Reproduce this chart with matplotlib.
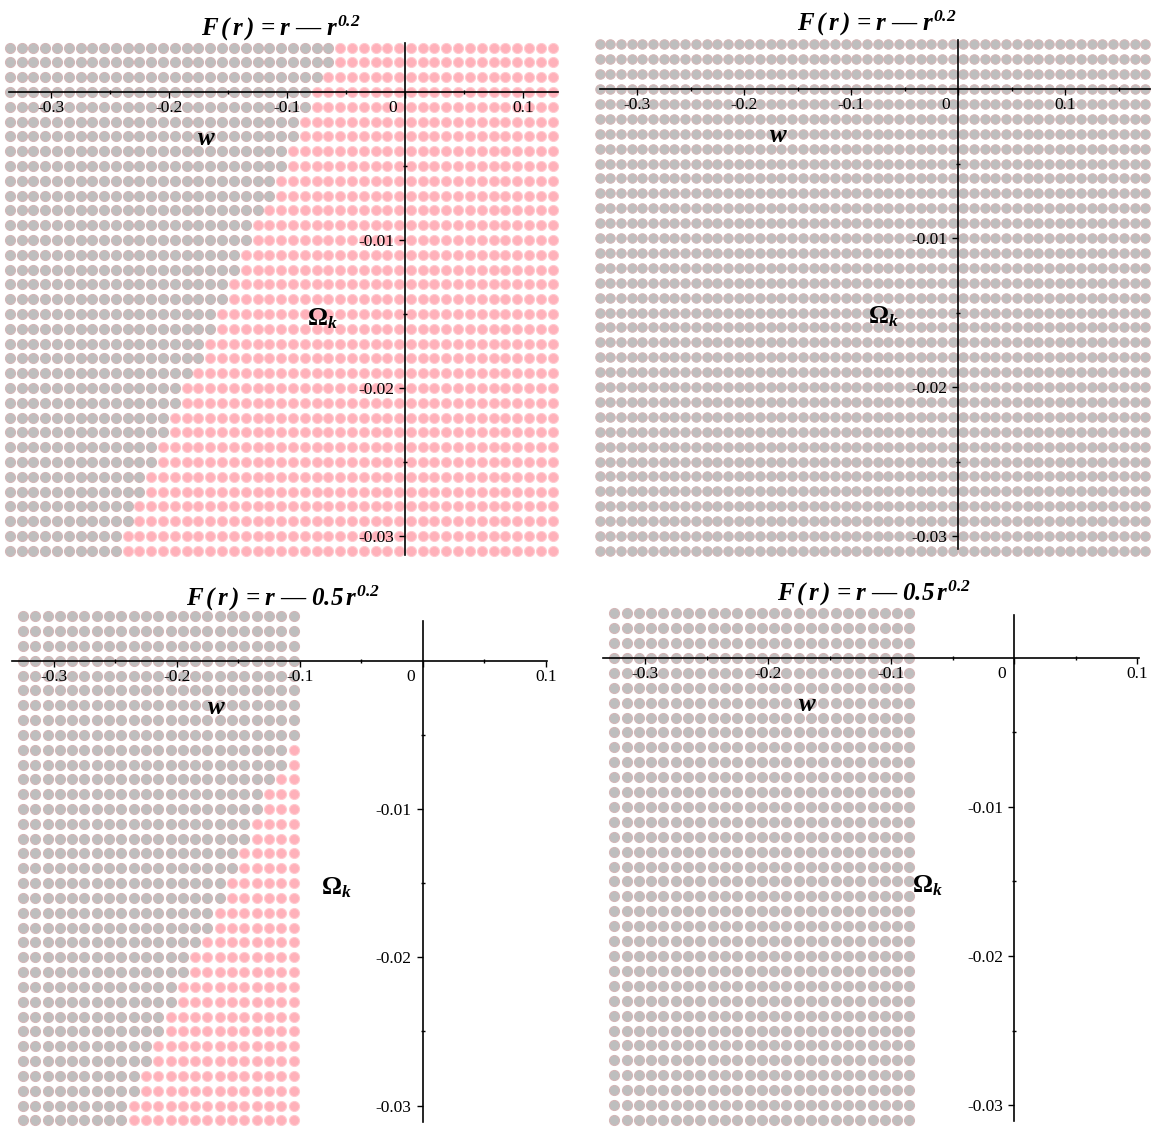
import numpy as np
import matplotlib
matplotlib.use('Agg')
from matplotlib import pyplot as plt
import matplotlib.transforms as mtransforms

plt.rcParams['mathtext.fontset'] = 'custom'
plt.rcParams['mathtext.rm'] = 'Liberation Serif:bold:italic'
plt.rcParams['mathtext.it'] = 'Liberation Serif:bold:italic'
plt.rcParams['mathtext.bf'] = 'Liberation Serif:bold'

W, H = 1163, 1129

titles = [r'$F\,(\,r\,)\,=r$' + ' \u2014 ' + r'$r^{0.2}$',
          r'$F\,(\,r\,)\,=r$' + ' \u2014 ' + r'$r^{0.2}$',
          r'$F\,(\,r\,)\,=r$' + ' \u2014 ' + r'$0.5\,r^{0.2}$',
          r'$F\,(\,r\,)\,=r$' + ' \u2014 ' + r'$0.5\,r^{0.2}$']

# Omega_k rows of the sample grid (top to bottom)
omega_rows = np.round(np.linspace(0.003, -0.031, 35), 3)

# first w (per row) where the condition holds -> pink dots
w_edge = [-0.055, -0.055, -0.065, -0.075, -0.075, -0.085, -0.085, -0.095, -0.095,
          -0.105, -0.105, -0.115, -0.125, -0.125, -0.135, -0.135, -0.145, -0.145,
          -0.155, -0.155, -0.165, -0.165, -0.175, -0.185, -0.185, -0.195, -0.195,
          -0.205, -0.205, -0.215, -0.215, -0.225, -0.225, -0.235, -0.235]

# w sample range of each panel (first, last), step 0.01
w_first = [-0.335, -0.335, -0.325, -0.325]
w_last = [0.125, 0.175, -0.105, -0.085]
has_region = [True, False, True, False]

xticks = [-0.3, -0.2, -0.1, 0, 0.1]
xticklabels = ['-0.3', '-0.2', '-0.1', '0', '0.1']
yticks = [-0.01, -0.02, -0.03]
yticklabels = ['-0.01', '-0.02', '-0.03']

# layout in pixels: origin, px per unit, visible ranges
origin = [(405, 92), (958, 89), (422.7, 660.7), (1014, 658)]
scale = [(1180, 14800), (1070, 14900), (1230, 14830), (1230, 14900)]
xview = [(-0.336, 0.13), (-0.3346, 0.179), (-0.334, 0.101), (-0.334, 0.102)]
yview = [(-0.0313, 0.0033), (-0.0309, 0.0033), (-0.0311, 0.0027), (-0.0311, 0.0029)]
title_pos = [(281, 36), (877, 31), (283, 606), (874, 601)]

GREY, GREY_EDGE = '#bebebe', '#d4b6b7'
PINK, PINK_EDGE = '#ffb1ba', '#ffcbd0'

fig = plt.figure(figsize=(W / 100, H / 100), dpi=100)

for i in range(4):
    x0, y0 = origin[i]
    sx, sy = scale[i]
    (xa, xb), (ya, yb) = xview[i], yview[i]
    ax = fig.add_axes([(x0 + sx * xa) / W, 1 - (y0 - sy * ya) / H,
                       sx * (xb - xa) / W, sy * (yb - ya) / H])
    ax.set_xlim(xa, xb)
    ax.set_ylim(ya, yb)

    n = int(round((w_last[i] - w_first[i]) / 0.01)) + 1
    ws = np.linspace(w_first[i], w_last[i], n)
    gw, go = np.meshgrid(ws, omega_rows)
    if has_region[i]:
        edge = np.array(w_edge)[:, None]
        inside = gw > edge - 0.001
    else:
        inside = np.zeros_like(gw, dtype=bool)
    ms = 52 if i != 1 else 46
    ax.scatter(gw[~inside], go[~inside], s=ms, c=GREY, edgecolors=GREY_EDGE,
               linewidths=0.8, clip_on=False, zorder=1)
    ax.scatter(gw[inside], go[inside], s=ms, c=PINK, edgecolors=PINK_EDGE,
               linewidths=0.8, clip_on=False, zorder=1)

    for side in ['top', 'right']:
        ax.spines[side].set_visible(False)
    ax.spines['left'].set_position(('data', 0))
    ax.spines['bottom'].set_position(('data', 0))
    ax.spines['left'].set_linewidth(1.2)
    ax.spines['bottom'].set_linewidth(1.2)
    ax.patch.set_alpha(0)

    ax.set_xticks(xticks)
    ax.set_xticklabels(xticklabels, family='Liberation Serif', fontsize=12.5)
    ax.set_xticks([-0.25, -0.15, -0.05, 0.05, 0.15], minor=True)
    ax.set_yticks(yticks)
    ax.set_yticklabels(yticklabels, family='Liberation Serif', fontsize=12.5)
    ax.set_yticks([-0.005, -0.015, -0.025], minor=True)
    ax.tick_params(which='major', direction='out', length=4, width=1, pad=2)
    ax.tick_params(axis='y', which='major', pad=4)
    ax.tick_params(which='minor', direction='inout', length=3, width=1)
    ax.set_xlim(xa, xb)

    # zero label sits left of the vertical axis
    lab0 = ax.get_xticklabels()[3]
    lab0.set_transform(lab0.get_transform() +
                       mtransforms.ScaledTranslation(-9 / 72, 0, fig.dpi_scale_trans))

    ax.text(-0.168, -0.0031, r'$w$', fontsize=18, ha='center', va='center')
    ax.text(-0.07, -0.0153, r'$\mathbf{\Omega}_{k}$', fontsize=18, ha='center', va='center')

    tx, ty = title_pos[i]
    fig.text(tx / W, 1 - ty / H, titles[i], fontsize=18, ha='center', va='baseline',
             family='Liberation Serif', fontweight='bold')

fig.savefig('out.png', dpi=100, facecolor='white')
